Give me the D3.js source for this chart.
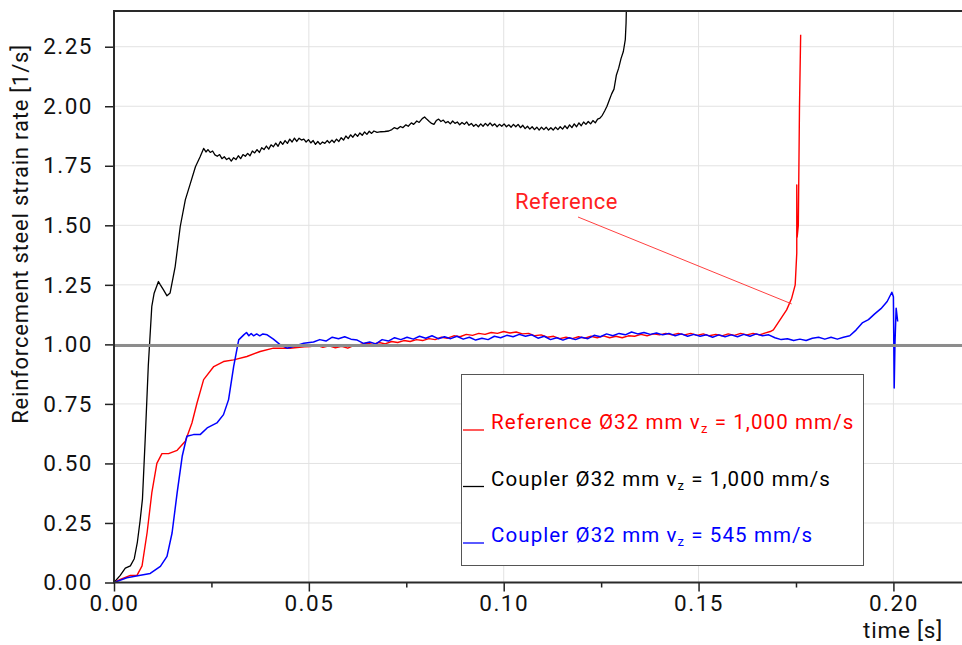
<!DOCTYPE html>
<html>
<head>
<meta charset="utf-8">
<script src="https://cdn.jsdelivr.net/npm/d3@7"></script>
<style>
  body { margin: 0; background: #fff; }
  svg { font-family: Roboto, "Noto Sans", sans-serif; }
</style>
</head>
<body>
<div class="chart"></div>
<script>
// values: [time s, strain rate 1/s]
const couplerFast = [
  [0,0],[0.0016,0.03],[0.0029,0.06],[0.0042,0.07],[0.0052,0.10],[0.0060,0.17],[0.0067,0.26],
  [0.0073,0.35],[0.0080,0.60],[0.0088,0.91],[0.0097,1.16],[0.0103,1.215],[0.0114,1.264],
  [0.0119,1.25],[0.0127,1.229],[0.0136,1.204],[0.0144,1.216],[0.0157,1.327],[0.0170,1.495],
  [0.0183,1.607],[0.0196,1.676],[0.0209,1.746],[0.0221,1.788],[0.0230,1.823],
  [0.0236,1.808],[0.0241,1.818],[0.0247,1.806],[0.0253,1.812],[0.0259,1.796],[0.0265,1.790],
  [0.0271,1.797],[0.0277,1.780],[0.0283,1.788],[0.0289,1.776],[0.0295,1.783],[0.0301,1.770],
  [0.0307,1.784],[0.0313,1.776],[0.0319,1.792],[0.0325,1.780],[0.0331,1.797],[0.0337,1.790],
  [0.0343,1.802],[0.0349,1.792],[0.0355,1.812],[0.0361,1.804],[0.0367,1.818],[0.0373,1.806],
  [0.0379,1.826],[0.0385,1.818],[0.0391,1.833],[0.0397,1.820],[0.0403,1.838],[0.0409,1.830],
  [0.0415,1.845],[0.0421,1.832],[0.0427,1.852],[0.0433,1.840],[0.0439,1.856],[0.0445,1.844],
  [0.0451,1.862],[0.0457,1.850],[0.0463,1.866],[0.0469,1.852],[0.0475,1.866],[0.0481,1.858],
  [0.0487,1.862],[0.0493,1.850],[0.0499,1.860],[0.0505,1.846],[0.0511,1.856],[0.0517,1.840],
  [0.0523,1.852],[0.0529,1.840],[0.0535,1.850],[0.0541,1.844],[0.0547,1.856],[0.0553,1.846],
  [0.0559,1.858],[0.0565,1.848],[0.0571,1.862],[0.0577,1.852],[0.0583,1.868],[0.0589,1.858],
  [0.0595,1.875],[0.0601,1.864],[0.0607,1.880],[0.0613,1.870],[0.0619,1.884],[0.0625,1.874],
  [0.0631,1.888],[0.0637,1.878],[0.0643,1.892],[0.0649,1.882],[0.0655,1.895],[0.0661,1.886],
  [0.0667,1.896],[0.0675,1.890],[0.0685,1.893],[0.0695,1.894],[0.0705,1.896],[0.0713,1.902],
  [0.0719,1.910],[0.0727,1.905],[0.0735,1.915],[0.0741,1.910],[0.0749,1.922],[0.0755,1.916],
  [0.0763,1.930],[0.0769,1.924],[0.0777,1.938],[0.0783,1.932],[0.0791,1.948],[0.0797,1.955],
  [0.0803,1.945],[0.0809,1.936],[0.0815,1.928],[0.0821,1.924],[0.0827,1.940],[0.0833,1.946],
  [0.0839,1.936],[0.0845,1.942],[0.0851,1.930],[0.0857,1.936],[0.0863,1.926],[0.0869,1.938],
  [0.0875,1.928],[0.0881,1.934],[0.0887,1.922],[0.0893,1.932],[0.0899,1.924],[0.0905,1.934],
  [0.0911,1.920],[0.0917,1.928],[0.0923,1.916],[0.0929,1.924],[0.0935,1.914],[0.0941,1.926],
  [0.0947,1.916],[0.0953,1.928],[0.0959,1.918],[0.0965,1.930],[0.0971,1.918],[0.0977,1.926],
  [0.0983,1.914],[0.0989,1.924],[0.0995,1.916],[0.1001,1.926],[0.1007,1.914],[0.1013,1.922],
  [0.1019,1.912],[0.1025,1.924],[0.1031,1.914],[0.1037,1.924],[0.1043,1.910],[0.1049,1.920],
  [0.1055,1.906],[0.1061,1.916],[0.1067,1.904],[0.1073,1.914],[0.1079,1.902],[0.1085,1.912],
  [0.1091,1.900],[0.1097,1.912],[0.1103,1.902],[0.1109,1.912],[0.1115,1.900],[0.1121,1.910],
  [0.1127,1.900],[0.1133,1.912],[0.1139,1.902],[0.1145,1.914],[0.1151,1.904],[0.1157,1.918],
  [0.1163,1.906],[0.1169,1.922],[0.1175,1.910],[0.1181,1.926],[0.1187,1.914],[0.1193,1.930],
  [0.1199,1.918],[0.1205,1.934],[0.1211,1.924],[0.1217,1.936],[0.1223,1.926],[0.1229,1.940],
  [0.1235,1.930],[0.1241,1.946],[0.1247,1.950],[0.1253,1.962],[0.1259,1.980],[0.1265,2.000],
  [0.1271,2.026],[0.1277,2.052],[0.1283,2.072],[0.1289,2.130],[0.1295,2.160],[0.1301,2.200],
  [0.1307,2.230],[0.1312,2.280],[0.1314,2.35],[0.1316,2.50]
];

const reference = [
  [0,0],[0.0016,0.013],[0.0042,0.03],[0.0059,0.03],[0.0072,0.07],[0.0085,0.21],[0.0097,0.376],
  [0.0110,0.50],[0.0123,0.541],[0.0140,0.541],[0.0162,0.555],[0.0183,0.593],[0.0200,0.67],
  [0.0213,0.754],[0.0230,0.852],[0.0256,0.907],[0.0281,0.928],[0.0307,0.935],[0.0341,0.949],
  [0.0375,0.97],[0.0409,0.984],[0.0452,0.984],[0.0488,0.990],
  [0.0504,0.991],[0.0520,0.996],[0.0536,0.988],[0.0552,0.994],[0.0568,0.986],[0.0584,0.992],
  [0.0600,0.984],[0.0616,0.996],[0.0632,1.000],[0.0648,1.006],[0.0664,1.000],[0.0680,1.008],
  [0.0696,1.002],[0.0712,1.012],[0.0728,1.008],[0.0744,1.016],[0.0760,1.012],[0.0776,1.020],
  [0.0792,1.016],[0.0808,1.024],[0.0824,1.020],[0.0840,1.030],[0.0856,1.026],[0.0872,1.036],
  [0.0888,1.032],[0.0904,1.042],[0.0920,1.038],[0.0936,1.046],[0.0952,1.042],[0.0968,1.050],
  [0.0984,1.046],[0.1000,1.054],[0.1016,1.048],[0.1032,1.052],[0.1048,1.044],[0.1064,1.046],
  [0.1080,1.036],[0.1096,1.040],[0.1112,1.030],[0.1128,1.034],[0.1144,1.024],[0.1160,1.030],
  [0.1176,1.024],[0.1192,1.032],[0.1208,1.026],[0.1224,1.034],[0.1240,1.028],[0.1256,1.036],
  [0.1272,1.028],[0.1288,1.034],[0.1304,1.028],[0.1320,1.036],[0.1336,1.034],[0.1352,1.042],
  [0.1368,1.036],[0.1384,1.044],[0.1400,1.040],[0.1416,1.046],[0.1432,1.040],[0.1448,1.046],
  [0.1464,1.040],[0.1480,1.046],[0.1496,1.038],[0.1512,1.044],[0.1528,1.036],[0.1544,1.042],
  [0.1560,1.036],[0.1576,1.044],[0.1592,1.038],[0.1608,1.046],[0.1624,1.040],[0.1640,1.046],
  [0.1656,1.040],[0.1672,1.048],[0.1684,1.054],[0.1692,1.061],[0.1709,1.103],[0.1726,1.145],
  [0.1739,1.194],[0.1748,1.25],[0.1752,1.383],[0.1752,1.67],[0.1753,1.45],[0.1756,1.5],
  [0.1759,2.0],[0.1762,2.30]
];

const couplerSlow = [
  [0,0],[0.0033,0.02],[0.0068,0.03],[0.0093,0.038],[0.0119,0.068],[0.0136,0.11],[0.0149,0.208],
  [0.0162,0.376],[0.0175,0.53],[0.0187,0.614],[0.0204,0.621],[0.0221,0.621],[0.0239,0.649],
  [0.0264,0.67],[0.0281,0.705],[0.0294,0.768],[0.0307,0.907],[0.0320,1.019],[0.0333,1.04],
  [0.0340,1.050],[0.0346,1.036],[0.0352,1.046],[0.0358,1.036],[0.0366,1.044],[0.0374,1.036],
  [0.0382,1.044],[0.0393,1.040],[0.0409,1.022],[0.0427,0.998],[0.0444,0.984],[0.0461,0.991],
  [0.0487,1.005],[0.0512,1.010],[0.0528,1.020],[0.0544,1.014],[0.0560,1.030],[0.0576,1.024],
  [0.0592,1.032],[0.0608,1.022],[0.0624,1.018],[0.0640,1.004],[0.0656,1.010],[0.0672,1.002],
  [0.0688,1.020],[0.0704,1.014],[0.0720,1.028],[0.0736,1.020],[0.0752,1.030],[0.0768,1.022],
  [0.0784,1.034],[0.0800,1.026],[0.0816,1.036],[0.0832,1.024],[0.0848,1.032],[0.0864,1.024],
  [0.0880,1.034],[0.0896,1.022],[0.0912,1.030],[0.0928,1.018],[0.0944,1.026],[0.0960,1.020],
  [0.0976,1.034],[0.0992,1.028],[0.1008,1.038],[0.1024,1.032],[0.1040,1.042],[0.1056,1.034],
  [0.1072,1.040],[0.1088,1.026],[0.1104,1.034],[0.1120,1.020],[0.1136,1.028],[0.1152,1.018],
  [0.1168,1.028],[0.1184,1.020],[0.1200,1.030],[0.1216,1.024],[0.1232,1.038],[0.1248,1.032],
  [0.1264,1.044],[0.1280,1.036],[0.1296,1.046],[0.1312,1.040],[0.1328,1.052],[0.1344,1.044],
  [0.1360,1.050],[0.1376,1.042],[0.1392,1.048],[0.1408,1.040],[0.1424,1.046],[0.1440,1.036],
  [0.1456,1.044],[0.1472,1.034],[0.1488,1.042],[0.1504,1.034],[0.1520,1.040],[0.1536,1.030],
  [0.1552,1.040],[0.1568,1.032],[0.1584,1.040],[0.1600,1.032],[0.1616,1.042],[0.1632,1.034],
  [0.1648,1.044],[0.1664,1.036],[0.1680,1.040],[0.1696,1.028],[0.1712,1.020],[0.1728,1.024],
  [0.1744,1.016],[0.1760,1.022],[0.1776,1.016],[0.1792,1.026],[0.1808,1.030],[0.1824,1.022],
  [0.1840,1.030],[0.1856,1.022],[0.1872,1.030],[0.1888,1.036],[0.1904,1.060],[0.1920,1.090],
  [0.1936,1.104],[0.1952,1.128],[0.1968,1.150],[0.1984,1.180],[0.1996,1.219],[0.2000,1.200],
  [0.2002,0.817],[0.2004,1.005],[0.2007,1.152],[0.2011,1.096]
];

const xTicks = [0, 0.05, 0.10, 0.15, 0.20];
const xMinorTicks = [0.025, 0.075, 0.125, 0.175];
const yTicks = [0, 0.25, 0.5, 0.75, 1.0, 1.25, 1.5, 1.75, 2.0, 2.25];
const targetRate = 0.995;

const seriesNames = ['Reference Ø32 mm v', 'Coupler Ø32 mm v', 'Coupler Ø32 mm v'];
const seriesTails = [' = 1,000 mm/s', ' = 1,000 mm/s', ' = 545 mm/s'];
const seriesColors = ['#ff0000', '#000000', '#0000ff'];

const width = 962, height = 645;
const margin = {top: 11, right: 0, bottom: 62, left: 114};

const svg = d3.select('.chart')
  .append('svg')
  .attr('width', width)
  .attr('height', height);

const x = d3.scaleLinear()
  .domain([0, 0.2176])
  .range([margin.left, width - margin.right]);

const y = d3.scaleLinear()
  .domain([0, 2.4])
  .range([height - margin.bottom - 0.5, margin.top]);

// grid
svg.append('g')
  .selectAll('line')
  .data(xTicks.slice(1))
  .join('line')
  .attr('x1', d => x(d)).attr('x2', d => x(d))
  .attr('y1', margin.top).attr('y2', y(0))
  .attr('stroke', '#e2e2e2');

svg.append('g')
  .selectAll('line')
  .data(yTicks.slice(1))
  .join('line')
  .attr('x1', margin.left).attr('x2', width)
  .attr('y1', d => y(d)).attr('y2', d => y(d))
  .attr('stroke', '#e2e2e2');

svg.append('clipPath').attr('id', 'plotClip')
  .append('rect')
  .attr('x', margin.left).attr('y', margin.top)
  .attr('width', width - margin.left).attr('height', y(0) - margin.top);

const line = d3.line().x(d => x(d[0])).y(d => y(d[1]));

const plot = svg.append('g').attr('clip-path', 'url(#plotClip)');
[[couplerFast, '#000', 1.3], [reference, '#ff0000', 1.4], [couplerSlow, '#0000ff', 1.5]]
  .forEach(([data, color, w]) => {
    plot.append('path')
      .datum(data)
      .attr('d', line)
      .attr('fill', 'none')
      .attr('stroke', color)
      .attr('stroke-width', w)
      .attr('stroke-linejoin', 'round');
  });

// target line at 1.0
svg.append('line')
  .attr('x1', margin.left).attr('x2', width)
  .attr('y1', y(targetRate)).attr('y2', y(targetRate))
  .attr('stroke', '#8c8c8c')
  .attr('stroke-width', 3);

// axes
const yAxis = svg.append('g')
  .attr('transform', `translate(${margin.left},0)`)
  .call(d3.axisLeft(y).tickValues(yTicks).tickFormat(d3.format('.2f')).tickSize(9).tickPadding(12));
yAxis.select('.domain').remove();

const xAxis = svg.append('g')
  .attr('transform', `translate(0,${y(0)})`)
  .call(d3.axisBottom(x).tickValues(xTicks).tickFormat(d3.format('.2f')).tickSize(9).tickPadding(4));
xAxis.select('.domain').remove();

svg.append('g')
  .attr('transform', `translate(0,${y(0)})`)
  .call(d3.axisBottom(x).tickValues(xMinorTicks).tickFormat('').tickSize(5))
  .select('.domain').remove();

svg.selectAll('.tick line').attr('stroke', '#222').attr('stroke-width', 1.5);
svg.selectAll('.tick text')
  .attr('font-size', 22.5)
  .attr('fill', '#111')
  .style('letter-spacing', '1.5px')
  .style('font-family', 'Roboto, sans-serif');

// frame
svg.append('path')
  .attr('d', `M${width},${margin.top}H${margin.left}V${y(0)}H${width}`)
  .attr('fill', 'none')
  .attr('stroke', '#2a2a2a')
  .attr('stroke-width', 2);

// axis titles
svg.append('text')
  .attr('transform', `translate(28,234) rotate(-90)`)
  .attr('text-anchor', 'middle')
  .attr('font-size', 22)
  .attr('fill', '#111')
  .style('letter-spacing', '0.8px')
  .text('Reinforcement steel strain rate [1/s]');

svg.append('text')
  .attr('x', 943).attr('y', 638)
  .attr('text-anchor', 'end')
  .attr('font-size', 22.5)
  .attr('fill', '#111')
  .style('letter-spacing', '0.8px')
  .text('time [s]');

// annotation
svg.append('line')
  .attr('x1', 578).attr('y1', 217)
  .attr('x2', x(0.1739)).attr('y2', y(1.17))
  .attr('stroke', '#ff4040')
  .attr('stroke-width', 1);

svg.append('text')
  .attr('x', 515).attr('y', 209)
  .attr('font-size', 22)
  .attr('fill', '#ff2020')
  .style('letter-spacing', '0.5px')
  .text('Reference');

// legend
const legend = svg.append('g');
legend.append('rect')
  .attr('x', 461.5).attr('y', 374.5)
  .attr('width', 402).attr('height', 191)
  .attr('fill', '#fff')
  .attr('stroke', '#555');

const legendRows = legend.selectAll('g.row')
  .data(seriesNames)
  .join('g')
  .attr('class', 'row')
  .attr('transform', (d, i) => `translate(463,${429 + i * 56.5})`);

legendRows.append('line')
  .attr('x1', 0).attr('x2', 21)
  .attr('y1', 1).attr('y2', 1)
  .attr('stroke', (d, i) => seriesColors[i])
  .attr('stroke-width', 1.3);

const legendText = legendRows.append('text')
  .attr('x', 28)
  .attr('font-size', 20.5)
  .attr('fill', (d, i) => seriesColors[i])
  .style('letter-spacing', '1.1px');
legendText.append('tspan').text(d => d);
legendText.append('tspan').attr('font-size', 13).attr('dy', 4).text('z');
legendText.append('tspan').attr('dy', -4).text((d, i) => seriesTails[i]);
</script>
</body>
</html>
